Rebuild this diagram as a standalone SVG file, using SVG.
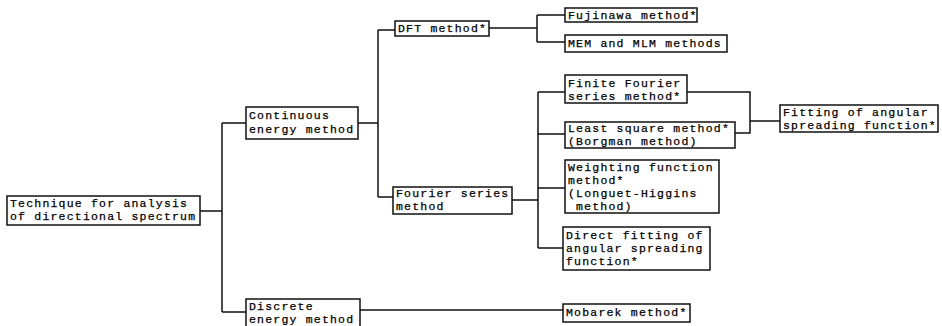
<svg xmlns="http://www.w3.org/2000/svg" width="942" height="326" viewBox="0 0 942 326">
<style>
.box{fill:#fff;stroke:#111;stroke-width:1.5}
.t{font-family:"Liberation Mono","DejaVu Sans Mono",monospace;font-size:11.5px;letter-spacing:1.2px;fill:#000;stroke:#000;stroke-width:0.25}
.c{fill:none;stroke:#111;stroke-width:1.5}
</style>
<rect width="942" height="326" fill="#fff"/>
<g id="connectors">
<path class="c" d="M200,211 H222 M222,123 V312 M222,123 H246 M222,312 H246"/>
<path class="c" d="M358,123 H378 M378,30 V197 M378,30 H395 M378,197 H393"/>
<path class="c" d="M489,28 H537 M537,15 V42 M537,15 H565 M537,42 H565"/>
<path class="c" d="M360,310 H563"/>
<path class="c" d="M512,200 H538 M538,92 V248 M538,92 H565 M538,134 H565 M538,188 H565 M538,248 H563"/>
<path class="c" d="M687,92 H750 V133 H735 M750,121 H780"/>
</g>
<g id="root">
<rect class="box" x="7" y="196" width="193" height="29"/>
<text class="t" x="10" y="207">Technique for analysis</text>
<text class="t" x="10" y="220">of directional spectrum</text>
</g>
<g id="continuous">
<rect class="box" x="246" y="107" width="112" height="32"/>
<text class="t" x="249" y="119">Continuous</text>
<text class="t" x="249" y="133">energy method</text>
</g>
<g id="discrete">
<rect class="box" x="246" y="299" width="114" height="32"/>
<text class="t" x="249" y="310">Discrete</text>
<text class="t" x="249" y="323">energy method</text>
</g>
<g id="dft">
<rect class="box" x="395" y="21" width="94" height="15"/>
<text class="t" x="398" y="32">DFT method*</text>
</g>
<g id="fourier">
<rect class="box" x="393" y="187" width="119" height="27"/>
<text class="t" x="396" y="197">Fourier series</text>
<text class="t" x="396" y="210">method</text>
</g>
<g id="fujinawa">
<rect class="box" x="565" y="8" width="132" height="14"/>
<text class="t" x="568" y="19">Fujinawa method*</text>
</g>
<g id="mem">
<rect class="box" x="565" y="35" width="162" height="17"/>
<text class="t" x="568" y="47">MEM and MLM methods</text>
</g>
<g id="finite">
<rect class="box" x="565" y="75" width="122" height="28"/>
<text class="t" x="568" y="87">Finite Fourier</text>
<text class="t" x="568" y="100">series method*</text>
</g>
<g id="leastsquare">
<rect class="box" x="565" y="122" width="170" height="26"/>
<text class="t" x="568" y="132">Least square method*</text>
<text class="t" x="568" y="145">(Borgman method)</text>
</g>
<g id="weighting">
<rect class="box" x="565" y="160" width="154" height="53"/>
<text class="t" x="568" y="171">Weighting function</text>
<text class="t" x="568" y="184">method*</text>
<text class="t" x="568" y="197">(Longuet-Higgins</text>
<text class="t" x="576" y="210">method)</text>
</g>
<g id="direct">
<rect class="box" x="563" y="227" width="147" height="43"/>
<text class="t" x="566" y="239">Direct fitting of</text>
<text class="t" x="566" y="252">angular spreading</text>
<text class="t" x="566" y="265">function*</text>
</g>
<g id="mobarek">
<rect class="box" x="563" y="304" width="127" height="18"/>
<text class="t" x="566" y="316">Mobarek method*</text>
</g>
<g id="fitting">
<rect class="box" x="780" y="105" width="158" height="27"/>
<text class="t" x="783" y="116">Fitting of angular</text>
<text class="t" x="783" y="129">spreading function*</text>
</g>
</svg>
